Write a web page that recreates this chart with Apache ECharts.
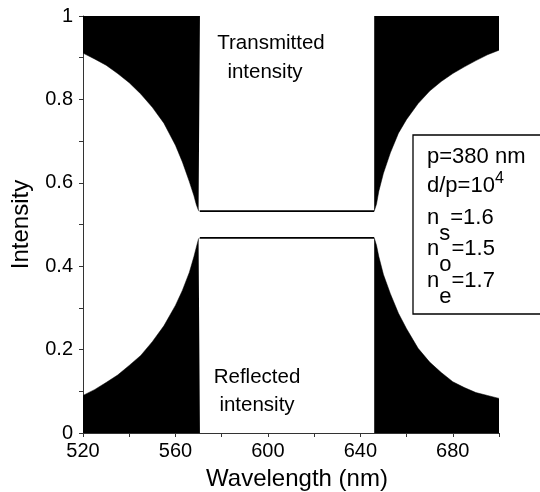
<!DOCTYPE html>
<html>
<head>
<meta charset="utf-8">
<script src="https://cdn.jsdelivr.net/npm/echarts@6/dist/echarts.min.js"></script>
<style>
    html, body {margin: 0; padding: 0; background: #fff;}
    #main {width: 540px; height: 492px;}
</style>
</head>
<body>
<div id="main"></div>
<script>
// wavelengths (nm) outside the band
const wlLeft = [520, 525, 530, 535, 540, 545, 550, 555, 560, 563, 566, 568, 569, 570, 570.6];
const transLeft = [0.911, 0.897, 0.882, 0.862, 0.840, 0.813, 0.781, 0.743, 0.690, 0.650, 0.603, 0.569, 0.548, 0.533, 0.532];
const reflLeft = [0.090, 0.104, 0.121, 0.139, 0.162, 0.186, 0.219, 0.257, 0.306, 0.342, 0.385, 0.423, 0.445, 0.466, 0.468];

const wlRight = [646, 646.5, 647, 648, 650, 653, 656.5, 660, 665, 670, 675, 680, 685, 690, 695, 700];
const transRight = [0.532, 0.535, 0.549, 0.580, 0.623, 0.672, 0.719, 0.752, 0.790, 0.820, 0.843, 0.862, 0.878, 0.893, 0.907, 0.918];
const reflRight = [0.468, 0.465, 0.450, 0.423, 0.380, 0.334, 0.287, 0.250, 0.203, 0.170, 0.145, 0.123, 0.109, 0.097, 0.090, 0.083];

// inside the band
const wlBand = [570.6, 646];
const transBand = [0.532, 0.532];
const reflBand = [0.468, 0.468];

const xTickLabels = [520, 560, 600, 640, 680];
const yTickLabels = [0, 0.2, 0.4, 0.6, 0.8, 1];

const font = 'Liberation Sans, Arial, sans-serif';
const zip = (xs, ys) => xs.map((x, i) => [x, ys[i]]);

const fillSeries = (xs, ys, origin) => ({
    type: 'line',
    data: zip(xs, ys),
    symbol: 'none',
    smooth: false,
    silent: true,
    lineStyle: {color: '#000', width: 0.5},
    areaStyle: {color: '#000', opacity: 1, origin: origin}
});

const bandSeries = (xs, ys) => ({
    type: 'line',
    data: zip(xs, ys),
    symbol: 'none',
    silent: true,
    lineStyle: {color: '#000', width: 1.6}
});

const txt = (text, x, y, size) => ({
    type: 'text',
    x: x,
    y: y,
    z: 100,
    style: {
        text: text,
        fill: '#000',
        font: size + 'px ' + font,
        align: 'center',
        textAlign: 'center',
        verticalAlign: 'middle',
        textVerticalAlign: 'middle'
    }
});

const boxRich = {
    m: {fontSize: 22, lineHeight: 22, fontFamily: font, color: '#000', verticalAlign: 'top'},
    mp: {fontSize: 22, lineHeight: 22, fontFamily: font, color: '#000', verticalAlign: 'top', padding: [4, 0, 0, 0]},
    sub: {fontSize: 22, lineHeight: 22, fontFamily: font, color: '#000', verticalAlign: 'top', padding: [16, 0, 0, 0]},
    sup: {fontSize: 16, lineHeight: 16, fontFamily: font, color: '#000', verticalAlign: 'top'}
};

const boxLine = (text, y) => ({
    type: 'text',
    x: 427,
    y: y,
    z: 101,
    style: {
        text: text,
        rich: boxRich,
        align: 'left',
        textAlign: 'left',
        verticalAlign: 'top',
        textVerticalAlign: 'top'
    }
});

const myChart = echarts.init(document.getElementById('main'));
myChart.setOption({
    animation: false,
    backgroundColor: '#fff',
    grid: {left: 83, right: 41, top: 16, bottom: 59, containLabel: false, outerBoundsMode: 'none'},
    xAxis: {
        type: 'value',
        min: 520,
        max: 700,
        interval: 20,
        name: 'Wavelength (nm)',
        nameLocation: 'middle',
        nameGap: 34,
        nameTextStyle: {fontSize: 24, fontFamily: font, color: '#000', padding: [0, 0, 0, 12]},
        axisLine: {lineStyle: {color: '#333', width: 1}},
        axisTick: {inside: false, length: 4, lineStyle: {color: '#333'}},
        axisLabel: {
            margin: 8,
            fontSize: 20,
            fontFamily: font,
            color: '#000',
            formatter: v => xTickLabels.includes(Math.round(v)) ? String(Math.round(v)) : ''
        },
        splitLine: {show: false}
    },
    yAxis: {
        type: 'value',
        min: 0,
        max: 1,
        interval: 0.1,
        name: 'Intensity',
        nameLocation: 'middle',
        nameGap: 50,
        nameTextStyle: {fontSize: 24, fontFamily: font, color: '#000'},
        axisLine: {show: true, lineStyle: {color: '#333', width: 1}},
        axisTick: {show: true, inside: false, length: 4, lineStyle: {color: '#333'}},
        axisLabel: {
            margin: 10,
            fontSize: 20,
            fontFamily: font,
            color: '#000',
            formatter: v => {
                const r = Math.round(v * 10) / 10;
                return yTickLabels.includes(r) ? String(r) : '';
            }
        },
        splitLine: {show: false}
    },
    series: [
        fillSeries(wlLeft, transLeft, 'end'),
        fillSeries(wlRight, transRight, 'end'),
        fillSeries(wlLeft, reflLeft, 'start'),
        fillSeries(wlRight, reflRight, 'start'),
        bandSeries(wlBand, transBand),
        bandSeries(wlBand, reflBand)
    ],
    graphic: [
        txt('Transmitted', 271, 43, 20.5),
        txt('intensity', 265, 72, 20.5),
        txt('Reflected', 257, 377, 20.5),
        txt('intensity', 257, 405, 20.5),
        {
            type: 'rect',
            z: 100,
            shape: {x: 413, y: 135, width: 140, height: 179},
            style: {fill: '#fff', stroke: '#000', lineWidth: 1.3}
        },
        boxLine('{m|p=380 nm}', 145.7),
        boxLine('{mp|d/p=10}{sup|4}', 171),
        boxLine('{m|n}{sub|s}{m|=1.6}', 206.5),
        boxLine('{m|n}{sub|o}{m|=1.5}', 238.2),
        boxLine('{m|n}{sub|e}{m|=1.7}', 269.8)
    ]
});
</script>
</body>
</html>
